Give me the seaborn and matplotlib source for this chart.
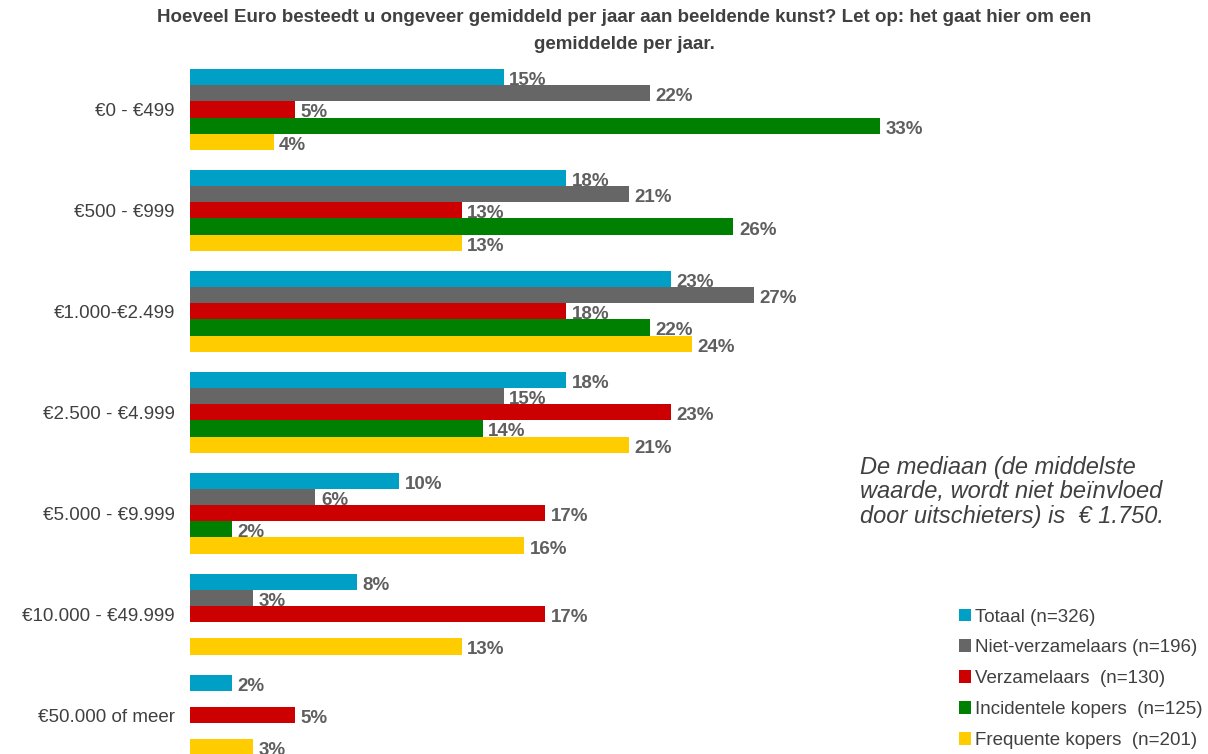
import matplotlib.pyplot as plt
import numpy as np
import pandas as pd
import seaborn as sns

categories = ['€0 - €499', '€500 - €999', '€1.000-€2.499', '€2.500 - €4.999',
              '€5.000 - €9.999', '€10.000 - €49.999', '€50.000 of meer']
groups = ['Totaal (n=326)', 'Niet-verzamelaars (n=196)', 'Verzamelaars  (n=130)',
          'Incidentele kopers  (n=125)', 'Frequente kopers  (n=201)']
totaal = [15, 18, 23, 18, 10, 8, 2]
niet_verzamelaars = [22, 21, 27, 15, 6, 3, np.nan]
verzamelaars = [5, 13, 18, 23, 17, 17, 5]
incidentele = [33, 26, 22, 14, 2, np.nan, np.nan]
frequente = [4, 13, 24, 21, 16, 13, 3]
colors = ['#00A0C6', '#666666', '#CC0000', '#008000', '#FFCC00']

title = ('Hoeveel Euro besteedt u ongeveer gemiddeld per jaar aan beeldende kunst? '
         'Let op: het gaat hier om een\ngemiddelde per jaar.')
note = 'De mediaan (de middelste\nwaarde, wordt niet beïnvloed\ndoor uitschieters) is  € 1.750.'

# long format for seaborn, missing answers dropped (slot stays empty)
rows = []
for g, vals in zip(groups, [totaal, niet_verzamelaars, verzamelaars, incidentele, frequente]):
    for c, v in zip(categories, vals):
        rows.append({'categorie': c, 'groep': g, 'pct': v})
df = pd.DataFrame(rows).dropna()

sns.set_theme(style='white')
plt.rcParams['font.family'] = ['Liberation Sans', 'DejaVu Sans']

fig = plt.figure(figsize=(12.08, 7.54), dpi=100)
ax = fig.add_axes([190 / 1208, 0, 1018 / 1208, 1 - 59 / 754])

sns.barplot(data=df, y='categorie', x='pct', hue='groep', order=categories,
            hue_order=groups, palette=colors, orient='h', width=0.8, gap=0,
            saturation=1, linewidth=0, errorbar=None, ax=ax)

# percentage labels, drawn under the bars like in the original
for cont in ax.containers:
    anns = ax.bar_label(cont, fmt='%d%%', padding=4, fontsize=13.5, fontweight='bold',
                        color='#5F5F5F')
    for a in anns:
        a.xyann = (4, -2.5)
        a.set_zorder(0.5)

ax.set_xlim(0, 1018 / 20.9)
ax.set_ylim(6.385, -0.5)
ax.set_xlabel('')
ax.set_ylabel('')
ax.set_xticks([])
ax.tick_params(axis='y', length=0, pad=11, labelsize=13.5, labelcolor='#404040')
sns.despine(ax=ax, left=True, bottom=True)

fig.text(0.517, 1 - 9 / 754, title, ha='center', va='top', fontsize=13.5,
         fontweight='bold', color='#404040', linespacing=1.8)
fig.text(860 / 1208, 1 - 456 / 754, note, ha='left', va='top', fontsize=17,
         style='italic', color='#404040', linespacing=1.08)

ax.legend(loc='upper left', bbox_to_anchor=(951 / 1208, 1 - 601 / 754),
          bbox_transform=fig.transFigure, frameon=False, fontsize=13.5,
          handlelength=0.68, handleheight=0.68, handletextpad=0.2,
          labelspacing=0.74, borderaxespad=0, labelcolor='#404040')

fig.savefig('out.png', dpi=100)
